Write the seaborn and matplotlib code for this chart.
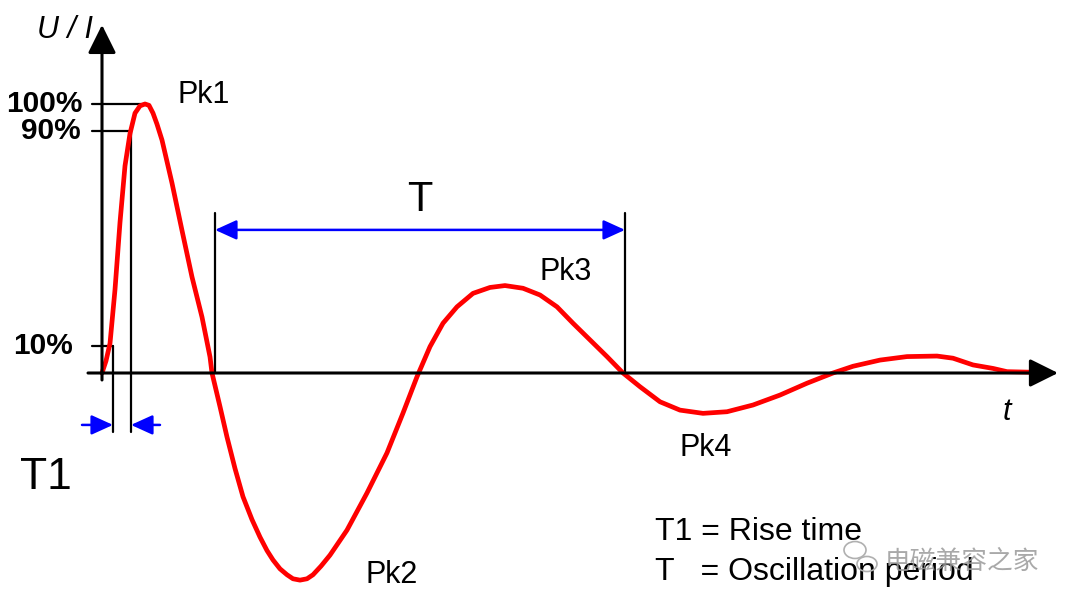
"""
Rise time / oscillation period diagram of a damped ringing waveform.
"""

import matplotlib
matplotlib.use("Agg")
import matplotlib.pyplot as plt
from matplotlib.patches import Ellipse
import pandas as pd
import seaborn as sns

# ── data ───────────────────────────────────────────────────────────────────
# time axis in arbitrary units, amplitude in % of the first peak
t_vals = [0, 4, 8, 13, 18, 23, 28, 33, 38, 43, 47, 51, 55, 60, 70, 80, 90,
          100, 108, 110, 118, 125, 133, 141, 150, 158, 165, 171, 178, 185,
          191, 198, 205, 211, 219, 228, 245, 265, 285, 301, 315, 328, 341,
          355, 371, 388, 403, 421, 438, 455, 471, 488, 505, 521, 538, 558,
          578, 601, 625, 651, 678, 705, 731, 751, 778, 805, 835, 851, 871,
          891, 905, 928]
amp_vals = [0, 4.5, 11, 31, 56, 77, 89, 96.6, 99.3, 100, 99.5, 96.6, 92.5,
            86.6, 70.6, 53, 35.7, 20.8, 6, 0, -12.5, -23.8, -35.5, -46,
            -54.5, -61, -66, -69.5, -72.8, -75, -76.5, -77, -76.5, -75,
            -71.8, -67.7, -58.4, -44.6, -29.7, -14.9, -1.4, 9.8, 18.5, 24.6,
            29.6, 31.8, 32.5, 31.5, 29, 24.6, 18.5, 12.3, 6.1, 0, -5.1,
            -10.7, -13.8, -15, -14.4, -11.9, -8.2, -3.8, 0, 2.5, 4.8, 6.1,
            6.3, 5.5, 3, 1.7, 0.5, 0.3]

levels = [100, 90, 10]
level_labels = ["100%", "90%", "10%"]
level_t = [44, 29, 11]           # where each level line ends
label_right = [-19, -21, -29]    # right edge of each level label

t1_start, t1_end = 11, 29        # rise time T1 (10% -> 90%)
T_start, T_end = 113, 523        # oscillation period T

peak_labels = ["Pk1", "Pk2", "Pk3", "Pk4"]
peak_pos = [(76, 103.3), (263, -75), (438, 37.5), (578, -27.9)]

legend_lines = ["T1 = Rise time", "T   = Oscillation period"]
watermark = "电磁兼容之家"

df = pd.DataFrame({"t": t_vals, "amp": amp_vals})

# ── figure ─────────────────────────────────────────────────────────────────
sns.set_theme(style="white")
plt.rcParams["font.family"] = ["Liberation Sans", "DejaVu Sans"]
plt.rcParams["text.color"] = "black"

fig = plt.figure(figsize=(10.74, 6.08), dpi=100)
ax = fig.add_axes([0, 0, 1, 1])
ax.set_xlim(-102, 972)
ax.set_ylim(-87.36, 138.66)
ax.set_axis_off()

sns.lineplot(data=df, x="t", y="amp", color="#ff0000", lw=3.4, ax=ax,
             zorder=3, solid_joinstyle="round", solid_capstyle="round")

# axes with arrow heads
axis_arrow = dict(arrowstyle="-|>,head_length=1.45,head_width=0.72",
                  color="black", lw=2.2, shrinkA=0, shrinkB=0)
ax.annotate("", xy=(0, 129.4), xytext=(0, -2.6), arrowprops=axis_arrow)
ax.annotate("", xy=(956, 0), xytext=(-14, 0), arrowprops=axis_arrow)

# level lines and labels
for lv, lab, tt, xr in zip(levels, level_labels, level_t, label_right):
    ax.plot([-10, tt], [lv, lv], color="black", lw=1.6, zorder=2)
    ax.text(xr, lv, lab, ha="right", va="center", fontsize=21.5,
            fontweight="bold")

# rise time markers
ax.plot([t1_start, t1_start], [10, -21.9], color="black", lw=1.6)
ax.plot([t1_end, t1_end], [90, -21.9], color="black", lw=1.6)
blue_arrow = dict(arrowstyle="-|>,head_length=1.1,head_width=0.5",
                  color="#0000ff", lw=1.8, shrinkA=0, shrinkB=0)
ax.annotate("", xy=(t1_start, -19.3), xytext=(-20, -19.3),
            arrowprops=blue_arrow)
ax.annotate("", xy=(t1_end, -19.3), xytext=(58, -19.3),
            arrowprops=blue_arrow)
ax.text(-82, -39, "T1", ha="left", va="center", fontsize=32)

# oscillation period markers
ax.plot([T_start, T_start], [59.5, 0], color="black", lw=1.6)
ax.plot([T_end, T_end], [59.5, 0], color="black", lw=1.6)
ax.annotate("", xy=(T_start, 53.2), xytext=(T_end, 53.2),
            arrowprops=dict(arrowstyle="<|-|>,head_length=1.1,head_width=0.5",
                            color="#0000ff", lw=1.8, shrinkA=0, shrinkB=0))
ax.text((T_start + T_end) / 2, 64.3, "T", ha="center", va="center",
        fontsize=30)

# peak labels
for lab, (px, py) in zip(peak_labels, peak_pos):
    ax.text(px, py, lab, ha="left", va="center", fontsize=22)

# axis names
ax.text(-37, 127.5, "U / I", ha="center", va="center", fontsize=22,
        style="italic")
ax.text(905, -14.5, "t", ha="center", va="center", fontsize=22,
        style="italic")

# legend text
ax.text(553, -59.1, legend_lines[0], ha="left", va="center", fontsize=23)
ax.text(553, -74, legend_lines[1], ha="left", va="center", fontsize=23)

# watermark (icon + text)
for cx, cy, w, h in [(753, -65.8, 22, 6.3), (765, -71.0, 20, 5.6)]:
    ax.add_patch(Ellipse((cx, cy), w, h, fill=False, ec="#b0b0b0",
                         lw=1.2, zorder=5))
ax.text(783, -70.3, watermark, ha="left", va="center", fontsize=18.5,
        color="#9a9a9a", alpha=0.85,
        family=["Noto Sans CJK SC", "DejaVu Sans"], zorder=5)

fig.savefig("out.png", dpi=100)
plt.close(fig)
